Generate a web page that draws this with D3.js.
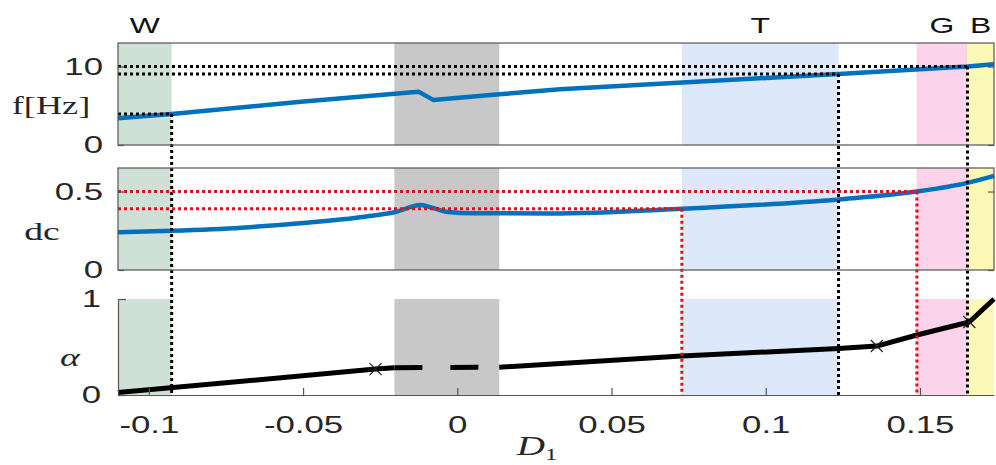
<!DOCTYPE html>
<html>
<head>
<meta charset="utf-8">
<script src="https://cdn.jsdelivr.net/npm/d3@7"></script>
<style>
  body { margin: 0; background: #fff; }
  text { font-family: "Liberation Sans", Arial, sans-serif; fill: #262626; }
  .serif { font-family: "Liberation Serif", "DejaVu Serif", serif; }
</style>
</head>
<body>
<div id="chart"></div>
<script>
// ── Data ─────────────────────────────────────────────────────────
const regions = [
  { label: 'W', from: -0.11,   to: -0.0926, color: '#cfe0d6' },
  { label: '',  from: -0.0204, to: 0.0136,  color: '#c8c8c8' },
  { label: 'T', from: 0.0728,  to: 0.1236,  color: '#dde8fb' },
  { label: 'G', from: 0.1489,  to: 0.1654,  color: '#fbd3ea' },
  { label: 'B', from: 0.1654,  to: 0.174,   color: '#fcf8b6' },
];

// frequency f[Hz] vs D1
const freqD = [-0.11, -0.0926, -0.0508, -0.0126, -0.0078, 0.0136, 0.0333, 0.1236, 0.1654, 0.174];
const freqF = [3.4, 3.95, 5.5, 6.8, 5.75, 6.46, 7.1, 9.05, 10.0, 10.3];

// duty cycle dc vs D1
const dcD = [-0.11, -0.0926, -0.07, -0.05, -0.03, -0.02, -0.0119, -0.0078, -0.003, 0.005, 0.03, 0.0728, 0.1236, 0.149, 0.1654, 0.174];
const dcV = [0.24, 0.25, 0.27, 0.30, 0.34, 0.37, 0.415, 0.395, 0.37, 0.362, 0.36, 0.39, 0.45, 0.50, 0.555, 0.60];

// alpha vs D1 (solid, dashed, solid)
const alphaSolid1 = [[-0.11, 0.025], [-0.0265, 0.27], [-0.0204, 0.285]];
const alphaDashed = [[-0.0204, 0.285], [0.0136, 0.29]];
const alphaSolid2 = [[0.0136, 0.29], [0.0728, 0.405], [0.1236, 0.485], [0.136, 0.51], [0.149, 0.625], [0.166, 0.76], [0.174, 1.0]];
const alphaCross = [[-0.0265, 0.27], [0.136, 0.51], [0.166, 0.76]];

// threshold guides
const fGuides = [[-0.0926, 3.95], [0.1236, 9.05], [0.1654, 10.0]];
const dcGuides = [[0.0728, 0.39], [0.149, 0.5]];

const xTicks = [-0.1, -0.05, 0, 0.05, 0.1, 0.15];
const xTickLabels = ['-0.1', '-0.05', '0', '0.05', '0.1', '0.15'];
const fTicks = [0, 10];
const dcTicks = [0, 0.5];
const dcTickLabels = ['0', '0.5'];
const aTicks = [0, 1];

// ── Layout ───────────────────────────────────────────────────────
const W = 996, H = 465;
const SX = 1.45; // horizontal text stretch of the original figure
const left = 118, right = 994;

const svg = d3.select('#chart').append('svg')
  .attr('width', W).attr('height', H);

const x = d3.scaleLinear().domain([-0.11, 0.174]).range([left, right]);
const yF = d3.scaleLinear().domain([0, 13]).range([145, 43]);
const yDC = d3.scaleLinear().domain([0, 0.65]).range([270, 168]);
const yA = d3.scaleLinear().domain([0, 1]).range([395, 299]);

function stretchText(sel, dxPx) {
  sel.each(function () {
    const t = d3.select(this);
    if (dxPx !== undefined) t.attr('x', dxPx / SX);
    t.attr('transform', `scale(${SX},1)`);
  });
}

function label(txt, cx, cy, size, cls) {
  return svg.append('text')
    .attr('class', cls || null)
    .attr('transform', `translate(${cx},${cy}) scale(${SX},1)`)
    .attr('text-anchor', 'middle')
    .attr('dominant-baseline', 'central')
    .attr('font-size', size)
    .text(txt);
}

// ── Shaded regions ───────────────────────────────────────────────
[[yF, 13], [yDC, 0.65], [yA, 1]].forEach(([ys, top]) => {
  svg.append('g').selectAll('rect')
    .data(regions)
    .enter().append('rect')
    .attr('x', d => x(d.from))
    .attr('width', d => x(d.to) - x(d.from))
    .attr('y', ys(top))
    .attr('height', ys(0) - ys(top))
    .attr('fill', d => d.color);
});

// region letters
svg.append('g').selectAll('text')
  .data(regions.filter(d => d.label))
  .enter().append('text')
  .attr('transform', d => `translate(${(x(d.from) + x(d.to)) / 2},25) scale(${SX},1)`)
  .attr('text-anchor', 'middle')
  .attr('dominant-baseline', 'central')
  .attr('font-size', 22)
  .style('fill', '#111')
  .text(d => d.label);

// ── Curves ───────────────────────────────────────────────────────
const fLine = d3.line().x(d => x(d[0])).y(d => yF(d[1]));
svg.append('path')
  .datum(d3.zip(freqD, freqF))
  .attr('d', fLine)
  .attr('fill', 'none')
  .attr('stroke', '#0072BD')
  .attr('stroke-width', 4.5)
  .attr('stroke-linejoin', 'round');

const dcLine = d3.line().x(d => x(d[0])).y(d => yDC(d[1])).curve(d3.curveMonotoneX);
svg.append('path')
  .datum(d3.zip(dcD, dcV))
  .attr('d', dcLine)
  .attr('fill', 'none')
  .attr('stroke', '#0072BD')
  .attr('stroke-width', 4.5);

const aLine = d3.line().x(d => x(d[0])).y(d => yA(d[1]));
[alphaSolid1, alphaSolid2].forEach(seg => {
  svg.append('path').datum(seg).attr('d', aLine)
    .attr('fill', 'none').attr('stroke', '#000')
    .attr('stroke-width', 5).attr('stroke-linejoin', 'round');
});
svg.append('path').datum(alphaDashed).attr('d', aLine)
  .attr('fill', 'none').attr('stroke', '#000')
  .attr('stroke-width', 5).attr('stroke-dasharray', '28,28');

// crosses
svg.append('g').selectAll('path')
  .data(alphaCross)
  .enter().append('path')
  .attr('d', d => {
    const cx = x(d[0]), cy = yA(d[1]), s = 6;
    return `M${cx - s},${cy - s}L${cx + s},${cy + s}M${cx - s},${cy + s}L${cx + s},${cy - s}`;
  })
  .attr('stroke', '#222').attr('stroke-width', 1.2);

// ── Guides (dotted) ──────────────────────────────────────────────
const gG = svg.append('g').attr('fill', 'none').attr('stroke-width', 3).attr('stroke-dasharray', '3,3');

fGuides.forEach(([d, f]) => {
  gG.append('line').attr('x1', x(-0.11)).attr('x2', x(d))
    .attr('y1', yF(f)).attr('y2', yF(f)).attr('stroke', '#000');
  gG.append('line').attr('x1', x(d)).attr('x2', x(d))
    .attr('y1', yF(f)).attr('y2', yA(0)).attr('stroke', '#000');
});
dcGuides.forEach(([d, v]) => {
  gG.append('line').attr('x1', x(-0.11)).attr('x2', x(d))
    .attr('y1', yDC(v)).attr('y2', yDC(v)).attr('stroke', '#e0101a');
  gG.append('line').attr('x1', x(d)).attr('x2', x(d))
    .attr('y1', yDC(v)).attr('y2', yA(0)).attr('stroke', '#e0101a');
});

// ── Axes ─────────────────────────────────────────────────────────
const axisColor = '#555';

function styleAxis(g) {
  g.selectAll('path.domain').attr('stroke', axisColor).attr('stroke-width', 1.2);
  g.selectAll('.tick line').attr('stroke', axisColor).attr('stroke-width', 1.2);
  g.selectAll('.tick text').attr('font-size', 24)
    .attr('font-family', '"Liberation Sans", Arial, sans-serif')
    .style('fill', '#262626');
}

// boxed panels
[[yF, fTicks, d => String(d)], [yDC, dcTicks, (d, i) => dcTickLabels[i]]].forEach(([ys, ticks, fmt]) => {
  svg.append('rect')
    .attr('x', left).attr('y', ys.range()[1])
    .attr('width', right - left).attr('height', ys.range()[0] - ys.range()[1])
    .attr('fill', 'none').attr('stroke', axisColor).attr('stroke-width', 1.2);

  const gl = svg.append('g').attr('transform', `translate(${left},0)`)
    .call(d3.axisLeft(ys).tickValues(ticks).tickFormat(fmt).tickSize(-6).tickSizeOuter(0));
  styleAxis(gl);
  gl.select('path.domain').remove();
  stretchText(gl.selectAll('.tick text'), -15);

  const gr = svg.append('g').attr('transform', `translate(${right},0)`)
    .call(d3.axisRight(ys).tickValues(ticks).tickFormat('').tickSize(-6).tickSizeOuter(0));
  styleAxis(gr);
  gr.select('path.domain').remove();
});

// bottom panel: left + bottom axes only
const ga = svg.append('g').attr('transform', `translate(${left},0)`)
  .call(d3.axisLeft(yA).tickValues(aTicks).tickFormat(d => String(d)).tickSize(-8).tickSizeOuter(0));
styleAxis(ga);
stretchText(ga.selectAll('.tick text'), -17);

const gx = svg.append('g').attr('transform', `translate(0,${yA(0)})`)
  .call(d3.axisBottom(x).tickValues(xTicks).tickFormat((d, i) => xTickLabels[i]).tickSize(-7).tickSizeOuter(0).tickPadding(21));
styleAxis(gx);
stretchText(gx.selectAll('.tick text'));

// ── Axis labels ──────────────────────────────────────────────────
label('f[Hz]', 51, 106, 25, 'serif');
label('dc', 42, 231, 26, 'serif');
label('α', 70, 357, 26, 'serif').attr('font-style', 'italic');

const xl = svg.append('text')
  .attr('class', 'serif')
  .attr('transform', `translate(537,455) scale(${SX},1)`)
  .attr('text-anchor', 'middle')
  .attr('font-size', 27)
  .attr('font-style', 'italic');
xl.append('tspan').text('D');
xl.append('tspan').attr('font-size', 17).attr('font-style', 'normal').attr('dy', 5).text('1');
</script>
</body>
</html>
